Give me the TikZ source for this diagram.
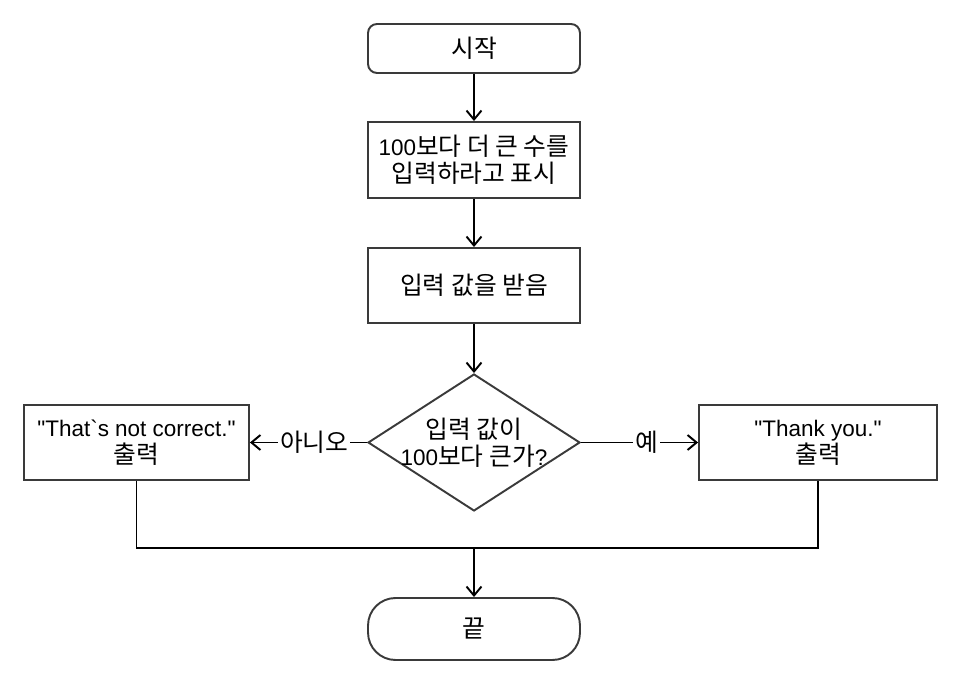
\documentclass[tikz,border=0pt]{standalone}
\usepackage{fontspec}
\setmainfont{Liberation Sans}
\newfontfamily\kr[Scale=1.1]{Noto Sans CJK KR}
\usetikzlibrary{shapes.geometric,arrows.meta}
\definecolor{boxline}{HTML}{3A3A3A}

\begin{document}
\begin{tikzpicture}[x=0.02cm, y=-0.02cm,
    every node/.style={font=\fontsize{12.8}{15.5}\selectfont, align=center},
    terminal/.style={draw=boxline, line width=1.1pt, rounded corners=0.18cm,
        minimum width=4.24cm, minimum height=0.98cm},
    process/.style={draw=boxline, line width=1.1pt, minimum height=1.5cm},
    decision/.style={diamond, draw=boxline, line width=1.1pt, inner sep=0pt,
        minimum width=4.24cm, minimum height=2.74cm},
    flow/.style={line width=1.1pt, -{Straight Barb[length=1.8mm,width=3mm]}},
    joint/.style={line width=1.1pt},
    answer/.style={fill=white, inner sep=1pt}]

    \useasboundingbox (0,0) rectangle (961,675);

    \node[terminal] (start) at (474,48.5) {\kr 시작};
    \node[process, minimum width=4.24cm, minimum height=1.52cm] (prompt) at (474,160)
        {100{\kr 보다 더 큰 수를}\\{\kr 입력하라고 표시}};
    \node[process, minimum width=4.24cm] (input) at (474,285.5) {\kr 입력 값을 받음};
    \node[decision] (check) at (474,442.5) {};
    \node (checktext) at (474,442.5) {{\kr 입력 값이}\\100{\kr 보다 큰가}?};
    \node[process, minimum width=4.5cm] (nope) at (136.5,442.5)
        {\textquotedbl That\textasciigrave s not correct.\textquotedbl\\{\kr 출력}};
    \node[process, minimum width=4.76cm] (thanks) at (818,442.5)
        {\textquotedbl Thank you.\textquotedbl\\{\kr 출력}};
    \node[terminal, minimum height=1.24cm, rounded corners=0.55cm] (stop) at (474,629) {\kr 끝};
    \coordinate (merge) at (474,548);

    \draw[flow] (start) -- (prompt);
    \draw[flow] (prompt) -- (input);
    \draw[flow] (input) -- (check);
    \draw[flow] (check.west) -- node[answer, pos=0.45] {\kr 아니오} (nope.east);
    \draw[flow] (check.east) -- node[answer, pos=0.56] {\kr 예} (thanks.west);
    \draw[joint] (nope.south) |- (merge) -| (thanks.south);
    \draw[flow] (merge) -- (stop);
\end{tikzpicture}
\end{document}
